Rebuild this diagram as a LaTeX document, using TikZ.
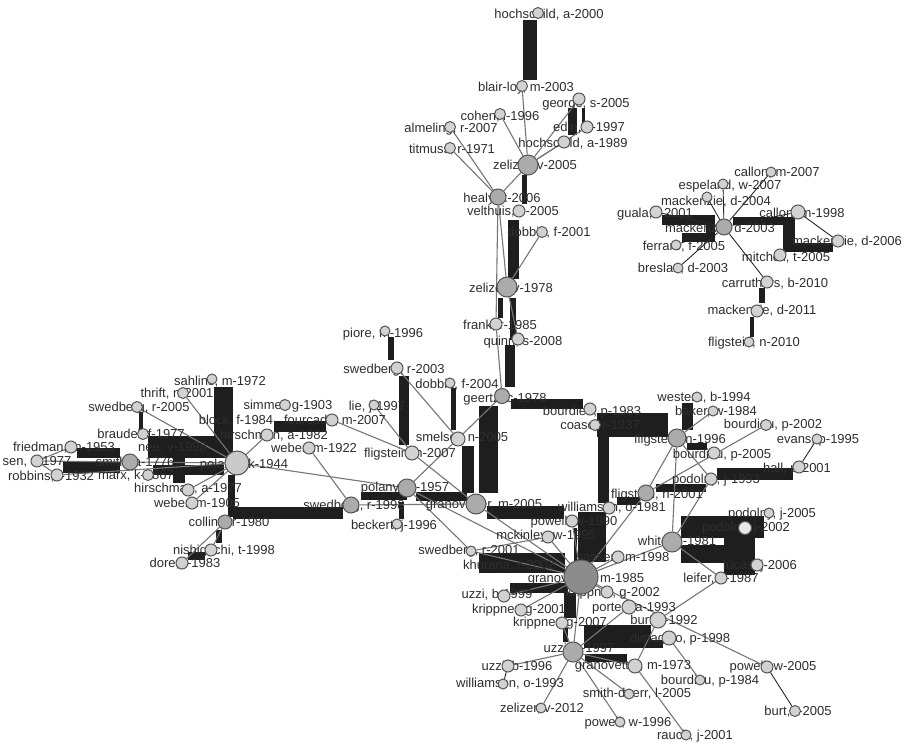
\documentclass[tikz,border=0pt]{standalone}
\usepackage{fontspec}
\setmainfont{Liberation Sans}
\pgfdeclarelayer{bg}
\pgfdeclarelayer{ed}
\pgfdeclarelayer{lb}
\pgfsetlayers{bg,ed,lb,main}
\definecolor{barc}{HTML}{1E1E1E}
\definecolor{edgec}{HTML}{767676}
\definecolor{txt}{HTML}{2E2E2E}
\definecolor{nL}{HTML}{D2D2D2}
\definecolor{nM}{HTML}{ABABAB}
\definecolor{nD}{HTML}{8C8C8C}
\definecolor{nV}{HTML}{E8E8E8}
\definecolor{nB}{HTML}{555555}
\tikzset{
 cnode/.style={circle,draw=nB,line width=1pt,inner sep=0pt},
 lbl/.style={font=\fontsize{13}{13}\selectfont,text=txt,inner sep=0pt,text height=9.4pt,text depth=0pt},
 ge/.style={draw=edgec,line width=1.1pt},
 be/.style={draw=black!85,line width=0.9pt},
 barbox/.style={fill=barc},
}
\newcommand\cit[8]{%
 \node[cnode,fill=#5,minimum size=#4pt] (#1) at (#2,#3) {};
 \begin{pgfonlayer}{lb}\node[lbl] (#1-l) at (#6,#7) {#8};\end{pgfonlayer}}
\begin{document}
\begin{tikzpicture}[x=1pt,y=-1pt]
\useasboundingbox (0,0) rectangle (905,743);
% ---------- nodes ----------
\cit{h2000}{538}{13}{11}{nL}{549}{14}{hochschild, a-2000}
\cit{blairloy}{522}{86}{11}{nL}{526}{87}{blair-loy, m-2003}
\cit{george}{579}{99}{12}{nL}{586}{103}{george, s-2005}
\cit{edin}{587}{127}{12}{nL}{589}{127}{edin, k-1997}
\cit{cohen}{500}{114}{11}{nL}{500}{116}{cohen, l-1996}
\cit{almeling}{450}{127}{11}{nL}{451}{128}{almeling, r-2007}
\cit{titmuss}{450}{148}{11}{nL}{452}{149}{titmuss, r-1971}
\cit{hoch89}{564}{142}{12}{nL}{573}{143}{hochschild, a-1989}
\cit{zel05}{528}{165}{20}{nM}{535}{165}{zelizer, v-2005}
\cit{healy}{498}{197}{16}{nM}{502}{198}{healy, k-2006}
\cit{velthuis}{519}{211}{12}{nL}{513}{211}{velthuis, o-2005}
\cit{dobbin01}{542}{232}{11}{nL}{549}{232}{dobbin, f-2001}
\cit{zel78}{507}{287}{20}{nM}{511}{288}{zelizer, v-1978}
\cit{frank}{496}{324}{12}{nL}{500}{325}{frank, r-1985}
\cit{quinn}{518}{339}{12}{nL}{523}{341}{quinn, s-2008}
\cit{geertz}{502}{396}{15}{nM}{505}{398}{geertz, c-1978}
\cit{piore}{385}{331}{10}{nL}{383}{333}{piore, m-1996}
\cit{swed03}{397}{368}{12}{nL}{394}{369}{swedberg, r-2003}
\cit{dobbin04}{450}{383}{10}{nL}{457}{384}{dobbin, f-2004}
\cit{lie}{374}{405}{10}{nL}{377}{406}{lie, j-1997}
\cit{fourcade}{332}{420}{12}{nL}{335}{420}{fourcade, m-2007}
\cit{sahlins}{212}{379}{10}{nL}{220}{381}{sahlins, m-1972}
\cit{thrift}{183}{393}{11}{nL}{177}{393}{thrift, n-2001}
\cit{swed05}{137}{407}{11}{nL}{139}{407}{swedberg, r-2005}
\cit{braudel}{143}{434}{11}{nL}{141}{434}{braudel, f-1977}
\cit{friedman}{71}{447}{12}{nL}{64}{447}{friedman, m-1953}
\cit{sen}{37}{461}{12}{nL}{37}{461}{sen, a-1977}
\cit{robbins}{57}{475}{12}{nL}{51}{476}{robbins, l-1932}
\cit{marx}{148}{475}{11}{nL}{136}{475}{marx, k-1867}
\cit{smith}{130}{462}{16}{nM}{135}{462}{smith, a-1776}
\cit{pol44}{237}{463}{24}{nL!80!nM}{244}{464}{polanyi, k-1944}
\cit{hir82}{267}{435}{12}{nL}{274}{435}{hirschman, a-1982}
\cit{simmel}{285}{405}{11}{nL}{288}{405}{simmel, g-1903}
\cit{web22}{309}{448}{12}{nL}{314}{448}{weber, m-1922}
\cit{fli07}{412}{453}{14}{nL}{410}{453}{fligstein, n-2007}
\cit{smelser}{458}{439}{14}{nL}{462}{437}{smelser, n-2005}
\cit{pol57}{407}{488}{18}{nM}{405}{487}{polanyi, k-1957}
\cit{gra05}{476}{504}{20}{nM}{484}{504}{granovetter, m-2005}
\cit{swed98}{351}{505}{16}{nM}{354}{505}{swedberg, r-1998}
\cit{beckert}{397}{524}{10}{nL}{394}{525}{beckert, j-1996}
\cit{collins}{225}{522}{14}{nM}{229}{522}{collins, r-1980}
\cit{nishig}{211}{550}{12}{nL}{224}{550}{nishiguchi, t-1998}
\cit{dore}{182}{563}{12}{nL}{185}{563}{dore, r-1983}
\cit{web05}{192}{503}{12}{nL}{197}{503}{weber, m-1905}
\cit{hir77}{188}{490}{12}{nL}{188}{488}{hirschman, a-1977}
\cit{gra85}{581}{577}{34}{nD}{586}{578}{granovetter, m-1985}
\cit{swed01}{471}{551}{10}{nL}{469}{550}{swedberg, r-2001}
\cit{mckinley}{548}{537}{12}{nL}{546}{535}{mckinley, w-1995}
\cit{pow90}{572}{521}{12}{nL}{574}{521}{powell, w-1990}
\cit{will81}{609}{508}{12}{nL}{612}{507}{williamson, o-1981}
\cit{sassen}{618}{557}{12}{nL}{623}{557}{sassen, m-1998}
\cit{fli01}{646}{493}{16}{nM}{657}{494}{fligstein, n-2001}
\cit{pod93}{711}{479}{12}{nL}{716}{479}{podolny, j-1993}
\cit{hall}{799}{467}{12}{nL}{797}{468}{hall, p-2001}
\cit{evans}{817}{439}{10}{nL}{818}{439}{evans, p-1995}
\cit{bou05}{714}{453}{12}{nL}{722}{454}{bourdieu, p-2005}
\cit{bou02}{766}{425}{11}{nL}{773}{424}{bourdieu, p-2002}
\cit{fli96}{677}{438}{18}{nM}{680}{439}{fligstein, n-1996}
\cit{western}{697}{397}{10}{nL}{704}{397}{western, b-1994}
\cit{baker}{713}{411}{10}{nL}{716}{411}{baker, w-1984}
\cit{bou83}{590}{409}{12}{nL}{592}{411}{bourdieu, p-1983}
\cit{coase}{595}{425}{11}{nL}{600}{425}{coase, r-1937}
\cit{white}{672}{542}{20}{nM}{677}{541}{white, h-1981}
\cit{pod05}{769}{513}{10}{nL}{772}{513}{podolny, j-2005}
\cit{pod02}{745}{528}{13}{nV}{746}{527}{podolny, j-2002}
\cit{leifer}{721}{578}{12}{nL}{721}{578}{leifer, e-1987}
\cit{lucas}{757}{565}{12}{nL}{760}{565}{lucas, j-2006}
\cit{kri02}{607}{592}{12}{nL}{613}{592}{krippner, g-2002}
\cit{uzzi99}{504}{596}{12}{nL}{497}{594}{uzzi, b-1999}
\cit{kri01}{521}{610}{12}{nL}{519}{609}{krippner, g-2001}
\cit{kri07}{562}{623}{12}{nL}{560}{622}{krippner, g-2007}
\cit{portes}{629}{607}{14}{nL}{634}{607}{portes, a-1993}
\cit{burt92}{658}{620}{16}{nL}{664}{620}{burt, r-1992}
\cit{dimaggio}{669}{638}{14}{nL}{680}{638}{dimaggio, p-1998}
\cit{uzzi97}{573}{652}{20}{nM}{579}{648}{uzzi, b-1997}
\cit{gra73}{635}{666}{14}{nL}{633}{665}{granovetter, m-1973}
\cit{uzzi96}{508}{666}{12}{nL}{517}{666}{uzzi, b-1996}
\cit{will93}{503}{684}{10}{nL}{510}{683}{williamson, o-1993}
\cit{bou84}{700}{680}{10}{nL}{710}{680}{bourdieu, p-1984}
\cit{smithd}{629}{694}{10}{nL}{637}{693}{smith-doerr, l-2005}
\cit{zel12}{541}{708}{10}{nL}{542}{708}{zelizer, v-2012}
\cit{pow96}{620}{722}{10}{nL}{628}{722}{powell, w-1996}
\cit{rauch}{686}{735}{10}{nL}{695}{735}{rauch, j-2001}
\cit{pow05}{767}{667}{12}{nL}{773}{666}{powell, w-2005}
\cit{burt05}{795}{711}{11}{nL}{798}{711}{burt, r-2005}
\cit{mac03}{724}{227}{16}{nM}{720}{228}{mackenzie, d-2003}
\cit{cal07}{771}{172}{10}{nL}{777}{172}{callon, m-2007}
\cit{espeland}{723}{184}{10}{nL}{730}{185}{espeland, w-2007}
\cit{mac04}{707}{197}{10}{nL}{716}{201}{mackenzie, d-2004}
\cit{guala}{656}{212}{12}{nL}{655}{213}{guala, f-2001}
\cit{cal98}{798}{212}{14}{nL}{802}{213}{callon, m-1998}
\cit{ferraro}{676}{245}{10}{nL}{684}{246}{ferraro, f-2005}
\cit{breslau}{678}{268}{10}{nL}{683}{268}{breslau, d-2003}
\cit{mac06}{838}{241}{12}{nL}{847}{241}{mackenzie, d-2006}
\cit{mitchell}{780}{255}{12}{nL}{786}{257}{mitchell, t-2005}
\cit{carruth}{767}{282}{12}{nL}{775}{283}{carruthers, b-2010}
\cit{mac11}{757}{311}{12}{nL}{762}{310}{mackenzie, d-2011}
\cit{fli10}{749}{342}{10}{nL}{754}{342}{fligstein, n-2010}
\begin{pgfonlayer}{lb}
\node[lbl,anchor=west] (nee-l) at (138,447) {nee, v-1998};
\node[lbl] (block-l) at (236,420) {block, f-1984};
\node[lbl,anchor=west] (khur-l) at (463,565) {khurana, r-2002};
\end{pgfonlayer}
% ---------- bars ----------
\begin{pgfonlayer}{bg}
\fill[white] (0,0) rectangle (905,743);
\foreach \a/\b/\c/\d in {
523/20/537/80, 568/108/577/135, 582/108/585/123, 522/175/527/204,
508/220/519/279, 498/298/503/318, 510/298/516/340, 505/345/515/387,
511/399/583/409, 388/337/394/360, 399/376/409/445, 451/388/456/430,
214/387/233/450, 148/436/233/458, 153/465/224/475, 173/455/185/483,
77/448/120/458, 63/462/120/473, 139/412/143/430, 274/421/326/432,
228/475/235/517, 233/507/343/519, 216/530/222/543, 188/552/205/560,
361/492/407/500, 416/492/467/501, 462/446/474/493, 479/406/498/493,
399/502/404/519,
479/553/565/573, 487/506/564/519, 574/528/577/562, 578/512/606/562,
617/497/640/505, 597/413/668/437, 598/413/609/503, 656/484/706/492,
717/468/793/480, 687/443/707/450, 682/403/693/430,
681/516/764/538, 681/545/724/563, 724/537/755/575,
510/583/567/593, 564/593/576/618, 563/628/568/642, 584/625/651/647,
584/640/663/648, 585/654/627/662,
662/215/715/225, 682/233/715/242, 706/215/715/242, 733/217/793/225,
783/217/795/252, 783/243/833/252, 759/288/765/303, 750/317/754/337}
  \fill[barbox] (\a,\b) rectangle (\c,\d);
\end{pgfonlayer}
% ---------- edges ----------
\begin{pgfonlayer}{ed}
\foreach \a/\b in {
blairloy/zel05, cohen/zel05, george/zel05, edin/zel05, hoch89/zel05,
zel05/healy, almeling/healy, titmuss/healy, healy/zel78, healy/frank,
dobbin01/zel78, zel78/quinn, frank/geertz, geertz/pol57, swed03/smelser,
fli07/gra05, fourcade/fli07, lie/fli07, pol44/pol57, web22/swed98,
swed98/gra05, hir82/pol44, thrift/pol44, swed05/pol44, smith/pol44,
sen/smith, sen/friedman, sen/robbins, robbins/pol44, hir77/pol44,
web05/pol44, collins/nishig, collins/dore, pol57/swed01, pol57/gra85,
gra05/gra85, mckinley/gra85, mckinley/swed01, swed01/gra85, pow90/gra85,
fli96/baker, fli96/fli01, fli96/white, fli96/pod93, fli01/bou02,
fli01/gra85, white/gra85, white/leifer, pod93/white, leifer/burt92,
sassen/gra85, gra85/uzzi97, gra85/uzzi99, gra85/kri01, gra85/kri02,
gra85/pow05, uzzi97/uzzi96, uzzi97/zel12, uzzi97/pow96, uzzi97/smithd,
uzzi97/gra73, uzzi97/kri07, uzzi97/portes, gra73/rauch, gra73/burt92,
dimaggio/bou84}
  \draw[ge] (\a) -- (\b);
\foreach \a/\b in {
uzzi96/will93, hall/evans, pow05/burt05, mac03/cal07, mac03/espeland,
mac03/mac04, mac03/guala, mac03/breslau, mac03/carruth, mac03/ferraro,
mac03/cal98, cal98/mac06}
  \draw[be] (\a) -- (\b);
\end{pgfonlayer}
\end{tikzpicture}
\end{document}
